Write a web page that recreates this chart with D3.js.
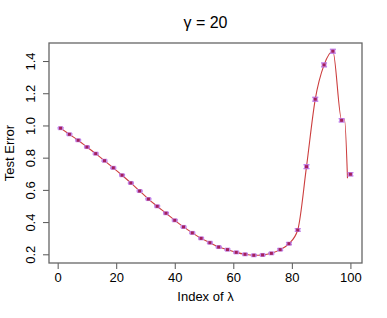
<!DOCTYPE html>
<html>
<head>
<meta charset="utf-8">
<script src="https://cdn.jsdelivr.net/npm/d3@7"></script>
<style>
  body { margin: 0; background: #fff; }
  text { font-family: "Liberation Sans", Arial, sans-serif; }
</style>
</head>
<body>
<div id="chart"></div>
<script>
// points drawn every 3rd index of lambda
var pointIdx = [1, 4, 7, 10, 13, 16, 19, 22, 25, 28, 31, 34, 37, 40, 43, 46, 49,
  52, 55, 58, 61, 64, 67, 70, 73, 76, 79, 82, 85, 88, 91, 94, 97, 100];
var pointVal = [0.983, 0.945, 0.908, 0.866, 0.825, 0.781, 0.737, 0.691, 0.643, 0.593,
  0.543, 0.498, 0.455, 0.411, 0.370, 0.333, 0.299, 0.272, 0.245, 0.229, 0.212, 0.200,
  0.194, 0.196, 0.206, 0.229, 0.266, 0.351, 0.744, 1.163, 1.376, 1.461, 1.032, 0.697];
var pointErr = [0.004, 0.004, 0.004, 0.004, 0.004, 0.004, 0.004, 0.004, 0.004, 0.004,
  0.004, 0.004, 0.004, 0.004, 0.004, 0.004, 0.004, 0.004, 0.004, 0.004, 0.004, 0.004,
  0.004, 0.004, 0.004, 0.005, 0.006, 0.008, 0.012, 0.012, 0.012, 0.012, 0.010, 0.010];

// the red curve
var lineIdx = [1, 4, 7, 10, 13, 16, 19, 22, 25, 28, 31, 34, 37, 40, 43, 46, 49,
  52, 55, 58, 61, 64, 67, 70, 73, 76, 79, 82, 85, 88, 91, 94, 97, 98, 99];
var lineVal = [0.983, 0.945, 0.908, 0.866, 0.825, 0.781, 0.737, 0.691, 0.643, 0.593,
  0.543, 0.498, 0.455, 0.411, 0.370, 0.333, 0.299, 0.272, 0.245, 0.229, 0.212, 0.200,
  0.194, 0.196, 0.206, 0.229, 0.266, 0.351, 0.744, 1.163, 1.376, 1.461, 1.035, 1.035, 0.672];

var xTicks = [0, 20, 40, 60, 80, 100];
var yTicks = [0.2, 0.4, 0.6, 0.8, 1.0, 1.2, 1.4];

var W = 387, H = 318;
var margin = {top: 43, right: 25, bottom: 55, left: 49};

var x = d3.scaleLinear().domain([-2.96, 103.96]).range([margin.left, W - margin.right]);
var y = d3.scaleLinear().domain([0.146, 1.512]).range([H - margin.bottom, margin.top]);

var svg = d3.select("#chart").append("svg")
  .attr("width", W).attr("height", H);

// x axis
var gx = svg.append("g")
  .attr("transform", "translate(0," + (H - margin.bottom) + ")")
  .call(d3.axisBottom(x).tickValues(xTicks).tickSize(6).tickPadding(4).tickSizeOuter(0));
gx.select(".domain").remove();
gx.selectAll("line").attr("stroke", "#555");
gx.selectAll("text").attr("font-size", "13px").attr("fill", "#000");

// y axis, labels parallel to the axis like R
var gy = svg.append("g")
  .attr("transform", "translate(" + margin.left + ",0)")
  .call(d3.axisLeft(y).tickValues(yTicks).tickSize(6).tickSizeOuter(0)
    .tickFormat(d3.format(".1f")));
gy.select(".domain").remove();
gy.selectAll("line").attr("stroke", "#555");
gy.selectAll("text")
  .attr("font-size", "13px").attr("fill", "#000")
  .attr("x", null).attr("dy", null)
  .attr("text-anchor", "middle")
  .attr("transform", "translate(-14.5,0) rotate(-90)");

// box
svg.append("rect")
  .attr("x", margin.left).attr("y", margin.top)
  .attr("width", W - margin.left - margin.right)
  .attr("height", H - margin.top - margin.bottom)
  .attr("fill", "none").attr("stroke", "#666").attr("stroke-width", 1.3);

// curve
var lineData = lineIdx.map(function(d, i) { return {i: d, v: lineVal[i]}; });
svg.append("path")
  .datum(lineData)
  .attr("fill", "none")
  .attr("stroke", "#cc3d3d")
  .attr("stroke-width", 1.1)
  .attr("d", d3.line()
    .x(function(d) { return x(d.i); })
    .y(function(d) { return y(d.v); })
    .curve(d3.curveMonotoneX));

// error bars and points
var pts = pointIdx.map(function(d, i) { return {i: d, v: pointVal[i], e: pointErr[i]}; });
var g = svg.append("g").selectAll("g").data(pts).enter().append("g");

g.append("line")
  .attr("x1", function(d) { return x(d.i); })
  .attr("x2", function(d) { return x(d.i); })
  .attr("y1", function(d) { return y(d.v - d.e); })
  .attr("y2", function(d) { return y(d.v + d.e); })
  .attr("stroke", "#b266e6").attr("stroke-width", 1.2);
[-1, 1].forEach(function(s) {
  g.append("line")
    .attr("x1", function(d) { return x(d.i) - 3; })
    .attr("x2", function(d) { return x(d.i) + 3; })
    .attr("y1", function(d) { return y(d.v + s * d.e); })
    .attr("y2", function(d) { return y(d.v + s * d.e); })
    .attr("stroke", "#b266e6").attr("stroke-width", 1.2);
});
g.append("rect")
  .attr("x", function(d) { return x(d.i) - 2.5; })
  .attr("y", function(d) { return y(d.v) - 2; })
  .attr("width", 5).attr("height", 4)
  .attr("fill", "#c78ae8");
g.append("rect")
  .attr("x", function(d) { return x(d.i) - 1.5; })
  .attr("y", function(d) { return y(d.v) - 1.5; })
  .attr("width", 3).attr("height", 3)
  .attr("fill", "#a3205c");

// titles
svg.append("text")
  .attr("x", (margin.left + W - margin.right) / 2).attr("y", 28)
  .attr("text-anchor", "middle").attr("font-size", "16px")
  .text("γ = 20");

svg.append("text")
  .attr("x", (margin.left + W - margin.right) / 2).attr("y", 301)
  .attr("text-anchor", "middle").attr("font-size", "13px")
  .text("Index of  λ");

svg.append("text")
  .attr("text-anchor", "middle").attr("font-size", "13px")
  .attr("transform", "translate(14," + ((margin.top + H - margin.bottom) / 2) + ") rotate(-90)")
  .text("Test Error");
</script>
</body>
</html>
